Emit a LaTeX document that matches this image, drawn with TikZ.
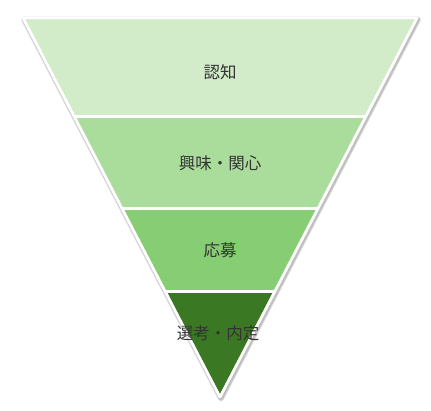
\documentclass[tikz,border=0pt]{standalone}
\usepackage{fontspec}
\newfontfamily\cjk{Noto Sans CJK JP}
\usetikzlibrary{calc}
\definecolor{bandA}{RGB}{210,235,200}
\definecolor{bandB}{RGB}{170,220,155}
\definecolor{bandC}{RGB}{135,205,115}
\definecolor{bandD}{RGB}{58,120,36}
\begin{document}
\begin{tikzpicture}[x=1pt, y=-1pt, line join=round,
    band/.style={draw=white, line width=2.5pt},
    label/.style={align=center, font=\cjk\fontsize{16.5}{20}\selectfont, text=black!80}]
                \useasboundingbox (0, 0) rectangle (431, 411);
                % funnel corners
                \coordinate (tl) at (23, 18);    \coordinate (tr) at (417, 18);
                \coordinate (al) at (74.2, 116.5); \coordinate (ar) at (365.8, 116.5);
                \coordinate (bl) at (122, 208.5);  \coordinate (br) at (318, 208.5);
                \coordinate (cl) at (165.2, 291.5); \coordinate (cr) at (274.8, 291.5);
                \coordinate (apex) at (220, 397);
                % soft shadow
                \draw[black!12, line width=6pt] ($(tl)+(1,1.5)$) -- ($(tr)+(1,1.5)$) -- ($(apex)+(1,1.5)$) -- cycle;
                \draw[black!25, line width=4pt] ($(tl)+(1,1.5)$) -- ($(tr)+(1,1.5)$) -- ($(apex)+(1,1.5)$) -- cycle;
                \fill[band, fill=bandA] (tl) -- (tr) -- (ar) -- (al) -- cycle;
                \fill[band, fill=bandB] (al) -- (ar) -- (br) -- (bl) -- cycle;
                \fill[band, fill=bandC] (bl) -- (br) -- (cr) -- (cl) -- cycle;
                \fill[band, fill=bandD] (cl) -- (cr) -- (apex) -- cycle;
                \draw[band] (tl) -- (tr) -- (apex) -- cycle;
                \draw[band] (al) -- (ar) (bl) -- (br) (cl) -- (cr);
                \node[label] (0) at (220, 72) {認知};
                \node[label] (1) at (220, 163) {興味・関心};
                \node[label] (2) at (220, 250) {応募};
                \node[label] (3) at (218, 333) {選考・内定};
            \end{tikzpicture}
\end{document}
